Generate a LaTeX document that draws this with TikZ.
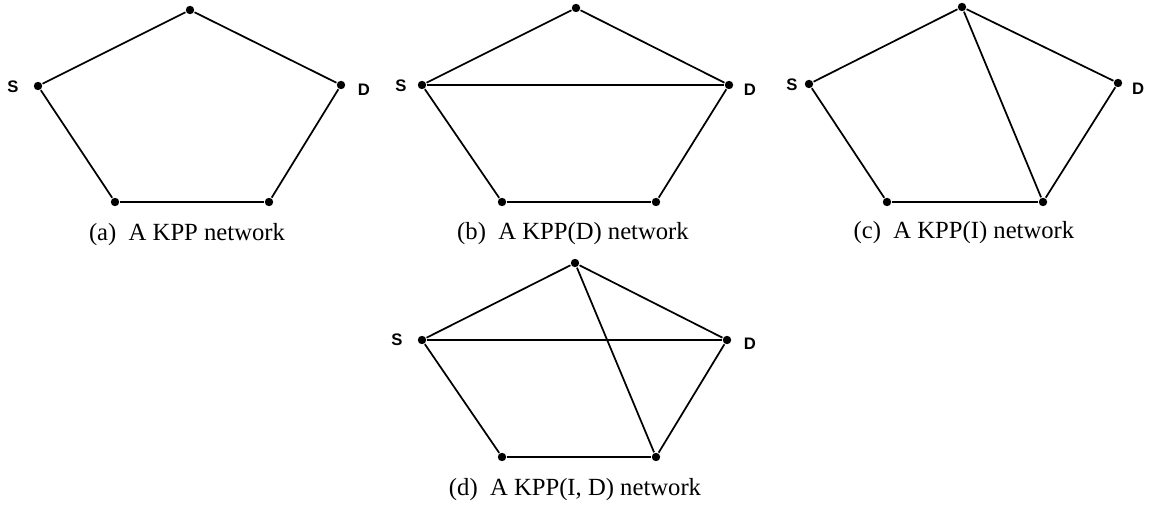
\documentclass[tikz,border=0pt]{standalone}
\usepackage{fontspec}
\setmainfont{Liberation Serif}
\newfontfamily\lblfont{Liberation Sans Bold}
\tikzset{every picture/.style={line width=1.3pt}}
\tikzset{
  vtx/.style={circle,fill=black,inner sep=0pt,minimum size=6.3pt},
  sdlbl/.style={inner sep=0pt,font=\lblfont\fontsize{12.5}{14}\selectfont},
  capt/.style={inner sep=0pt,font=\fontsize{18.5}{21}\selectfont}
}

\begin{document}
\begin{tikzpicture}[x=0.75pt,y=0.75pt,yscale=-1,xscale=1]
        \useasboundingbox (0,0) rectangle (1151,505);

        %Vertices (a)
        \node[vtx] (aT) at (190,10) {};
        \node[vtx] (aS) at (38,86) {};
        \node[vtx] (aD) at (341,85) {};
        \node[vtx] (aL) at (115,202) {};
        \node[vtx] (aR) at (269,202) {};
        %Straight Lines (a)
        \draw (aT) -- (aS) -- (aL) -- (aR) -- (aD) -- (aT);

        %Vertices (b)
        \node[vtx] (bT) at (576,8) {};
        \node[vtx] (bS) at (422,85) {};
        \node[vtx] (bD) at (729,85) {};
        \node[vtx] (bL) at (502,202) {};
        \node[vtx] (bR) at (656,202) {};
        %Straight Lines (b)
        \draw (bT) -- (bS) -- (bL) -- (bR) -- (bD) -- (bT);
        \draw (bS) -- (bD);

        %Vertices (c)
        \node[vtx] (cT) at (962,7) {};
        \node[vtx] (cS) at (809,84) {};
        \node[vtx] (cD) at (1118,83) {};
        \node[vtx] (cL) at (887,202) {};
        \node[vtx] (cR) at (1043,202) {};
        %Straight Lines (c)
        \draw (cT) -- (cS) -- (cL) -- (cR) -- (cD) -- (cT);
        \draw (cT) -- (cR);

        %Vertices (d)
        \node[vtx] (dT) at (575,263) {};
        \node[vtx] (dS) at (422,340) {};
        \node[vtx] (dD) at (727,340) {};
        \node[vtx] (dL) at (502,457) {};
        \node[vtx] (dR) at (656,457) {};
        %Straight Lines (d)
        \draw (dT) -- (dS) -- (dL) -- (dR) -- (dD) -- (dT);
        \draw (dS) -- (dD);
        \draw (dT) -- (dR);

        % Text Node
        \node[sdlbl] (aSlbl) at (13,87) {S};
        \node[sdlbl] (aDlbl) at (364,90) {D};
        \node[sdlbl] (bSlbl) at (401,86) {S};
        \node[sdlbl] (bDlbl) at (750,90) {D};
        \node[sdlbl] (cSlbl) at (792,85) {S};
        \node[sdlbl] (cDlbl) at (1138,89) {D};
        \node[sdlbl] (dSlbl) at (397,340) {S};
        \node[sdlbl] (dDlbl) at (750,344) {D};

        % Text Node
        \node[capt] (acap) at (187,235) {(a)\ \ A KPP network};
        \node[capt] (bcap) at (573,234) {(b)\ \ A KPP(D) network};
        \node[capt] (ccap) at (964,233) {(c)\ \ A KPP(I) network};
        \node[capt] (dcap) at (575,490) {(d)\ \ A KPP(I, D) network};

\end{tikzpicture}
\end{document}
